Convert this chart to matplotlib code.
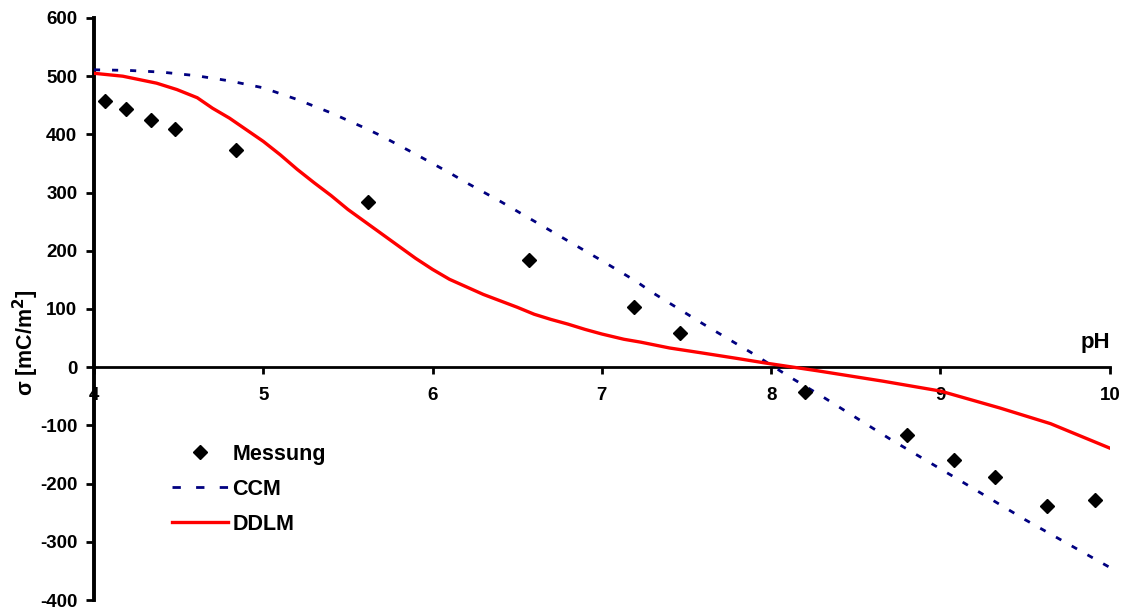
import matplotlib
matplotlib.use("Agg")
import matplotlib.pyplot as plt
from matplotlib.lines import Line2D

plt.rcParams['font.family'] = ['Liberation Sans', 'DejaVu Sans']
plt.rcParams['font.weight'] = 'bold'

# Measured data (Messung)
mess_ph = [4.065, 4.19, 4.335, 4.48, 4.84, 5.62, 6.57, 7.19, 7.46,
           8.20, 8.80, 9.08, 9.32, 9.63, 9.91]
mess_sigma = [457, 444, 424, 409, 374, 283, 184, 104, 58,
              -42, -117, -160, -189, -239, -228]

# CCM model curve
ccm_ph = [4.0, 4.2, 4.4, 4.6, 4.8, 5.0, 5.2, 5.4, 5.6, 5.7, 5.9, 6.1, 6.2,
          6.4, 6.6, 6.8, 7.0, 7.2, 7.3, 7.6, 7.9, 8.1, 8.3, 8.7, 9.1, 9.5, 10.0]
ccm_sigma = [511, 510, 507, 501, 492, 480, 460, 437, 411, 397, 366, 334, 317,
             285, 251, 217, 183, 148, 128, 74, 22, -15, -50, -123, -192, -262, -344]

# DDLM model curve
ddlm_ph = [4.0, 4.17, 4.37, 4.49, 4.61, 4.7, 4.8, 4.9, 5.0, 5.1, 5.2, 5.3,
           5.4, 5.5, 5.6, 5.7, 5.8, 5.9, 6.0, 6.1, 6.2, 6.3, 6.4, 6.5, 6.6,
           6.7, 6.8, 6.9, 7.0, 7.13, 7.23, 7.4, 7.58, 7.8, 7.97, 8.27, 8.66,
           9.0, 9.35, 9.65, 10.0]
ddlm_sigma = [505, 500, 488, 477, 463, 445, 428, 408, 388, 365, 340, 317,
              295, 271, 250, 229, 208, 187, 168, 151, 138, 125, 114, 103, 91,
              82, 74, 65, 57, 48, 43, 33, 25, 15, 7, -6, -24,
              -41, -70, -97, -139]

x_ticks = [4, 5, 6, 7, 8, 9, 10]
y_ticks = [-400, -300, -200, -100, 0, 100, 200, 300, 400, 500, 600]

fig = plt.figure(figsize=(11.27, 6.12), dpi=100)
ax = fig.add_axes([0.0834, 0.0196, 0.9013, 0.951])

ax.plot(mess_ph, mess_sigma, linestyle='none', marker='D', markersize=7,
        color='black', label='Messung', zorder=5)
ax.plot(ccm_ph, ccm_sigma, color='#000080', linewidth=2.0,
        dashes=(2.2, 4.3), label='CCM', zorder=3)
ax.plot(ddlm_ph, ddlm_sigma, color='#FF0000', linewidth=2.4,
        label='DDLM', zorder=4)

for s in ['top', 'right']:
    ax.spines[s].set_visible(False)
ax.spines['bottom'].set_position(('data', 0))
ax.spines['bottom'].set_linewidth(2.0)
ax.spines['left'].set_linewidth(2.8)

ax.set_xlim(4, 10)
ax.set_ylim(-400, 600)
ax.set_xticks(x_ticks)
ax.set_yticks(y_ticks)
ax.set_xticklabels([str(t) for t in x_ticks])
ax.set_yticklabels([str(t) for t in y_ticks])
ax.tick_params(axis='x', direction='out', length=5, width=2, pad=9,
               labelsize=13.5)
ax.tick_params(axis='y', direction='out', length=6, width=2, pad=6,
               labelsize=13.5)

ax.set_ylabel('σ [mC/m$^\\mathbf{2}$]', fontsize=15.5, fontweight='bold')
ax.yaxis.set_label_coords(-0.052, 0.443)
ax.text(10.0, 33, 'pH', fontsize=16, fontweight='bold', ha='right',
        va='baseline')

# legend keys (styled like the reference's legend)
leg_handles = [
    Line2D([], [], linestyle='none', marker='D', markersize=7, color='black'),
    Line2D([], [], color='#000080', linewidth=2.0, dashes=(3.0, 5.5)),
    Line2D([], [], color='#FF0000', linewidth=2.4),
]
leg = ax.legend(leg_handles, ['Messung', 'CCM', 'DDLM'], loc='upper left',
                bbox_to_anchor=(0.077, 0.268), frameon=False,
                fontsize=15.5, handlelength=2.6, handletextpad=0.2,
                labelspacing=0.64, borderaxespad=0, borderpad=0)

fig.savefig('out.png', dpi=100)
